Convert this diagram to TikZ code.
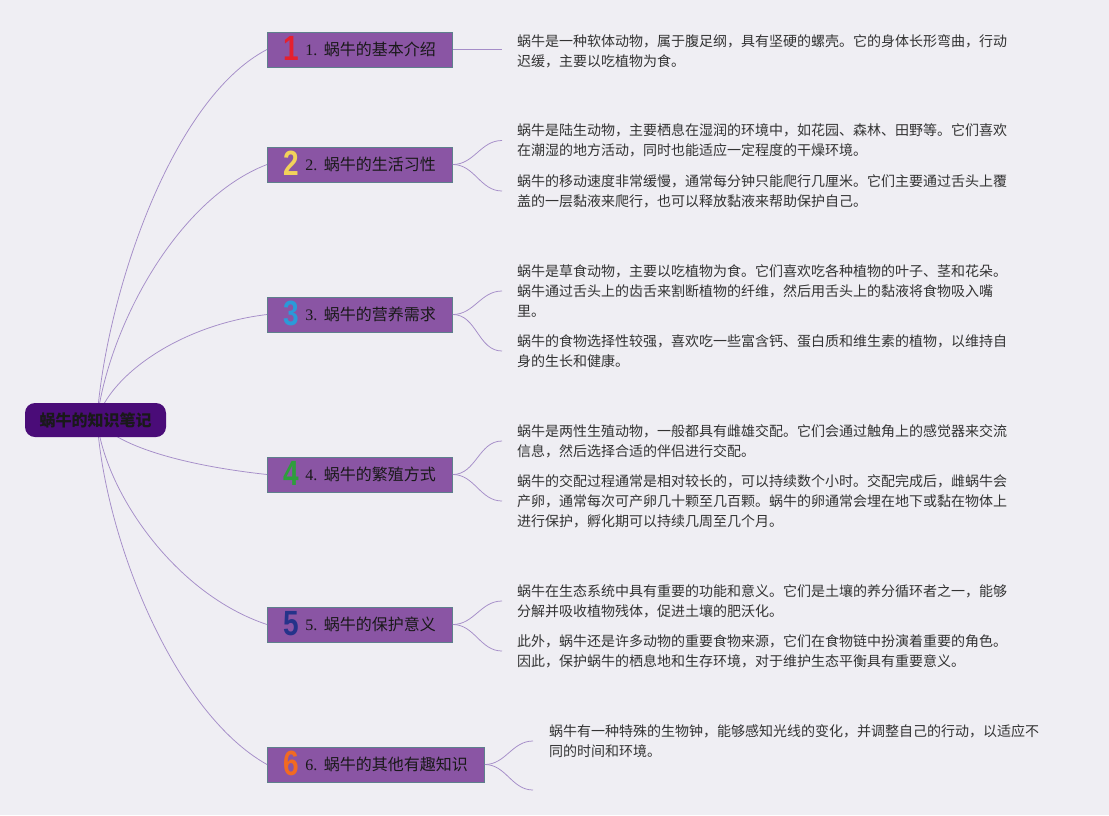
\documentclass[tikz,border=0pt]{standalone}
\usepackage{fontspec}
\newfontfamily\cjk{Noto Sans CJK SC}
\newfontfamily\numfont{Liberation Serif}
\newfontfamily\digitfont[FakeStretch=0.8]{Liberation Sans}
\definecolor{bg}{HTML}{EFEEF3}
\definecolor{rootfill}{HTML}{4A0C78}
\definecolor{topicfill}{HTML}{8A55A4}
\definecolor{topicline}{HTML}{5E7F8C}
\definecolor{conn}{HTML}{A58DC8}
\definecolor{txt}{HTML}{333333}
\definecolor{dA}{HTML}{E5202E}
\definecolor{dB}{HTML}{F2D25A}
\definecolor{dC}{HTML}{2B9AD8}
\definecolor{dD}{HTML}{2E9E3C}
\definecolor{dE}{HTML}{25338A}
\definecolor{dF}{HTML}{F26A21}
\newcommand{\bigdigit}[2]{\smash{\raisebox{-4.5pt}{\digitfont\bfseries\fontsize{35}{35}\selectfont\color{#1}#2}}\hspace{6pt}}
\tikzset{
  rootbox/.style={draw=none, fill=rootfill, rounded corners=10pt, minimum width=141pt, minimum height=34pt, inner sep=0pt, font=\cjk\bfseries\fontsize{16}{18}\selectfont, text=black!90},
  topicbox/.style={draw=topicline, line width=0.8pt, fill=topicfill, minimum height=35pt, inner xsep=0pt, inner ysep=0pt, font=\fontsize{16}{18}\selectfont, text=black!90, anchor=west},
  leaf/.style={anchor=west, inner xsep=15pt, inner ysep=0pt, align=left, font=\cjk\fontsize{14}{20}\selectfont, text=txt},
  link/.style={draw=conn, line width=0.75pt}
}
\begin{document}
\begin{tikzpicture}[x=1pt,y=-1pt]
\useasboundingbox[fill=bg] (0,0) rectangle (1109,815);
% topics
\node[topicbox, minimum width=185pt] (t1) at (267,49.5) {\bigdigit{dA}{1}{\numfont 1.} {\cjk 蜗牛的基本介绍}};
\node[topicbox, minimum width=185pt] (t2) at (267,164.5) {\bigdigit{dB}{2}{\numfont 2.} {\cjk 蜗牛的生活习性}};
\node[topicbox, minimum width=185pt] (t3) at (267,314.5) {\bigdigit{dC}{3}{\numfont 3.} {\cjk 蜗牛的营养需求}};
\node[topicbox, minimum width=185pt] (t4) at (267,474.5) {\bigdigit{dD}{4}{\numfont 4.} {\cjk 蜗牛的繁殖方式}};
\node[topicbox, minimum width=185pt] (t5) at (267,624.5) {\bigdigit{dE}{5}{\numfont 5.} {\cjk 蜗牛的保护意义}};
\node[topicbox, minimum width=217pt] (t6) at (267,764.5) {\bigdigit{dF}{6}{\numfont 6.} {\cjk 蜗牛的其他有趣知识}};
% leaves
\node[leaf] (c1) at (502,51) {蜗牛是一种软体动物，属于腹足纲，具有坚硬的螺壳。它的身体长形弯曲，行动\\迟缓，主要以吃植物为食。};
\node[leaf] (c21) at (502,140.5) {蜗牛是陆生动物，主要栖息在湿润的环境中，如花园、森林、田野等。它们喜欢\\在潮湿的地方活动，同时也能适应一定程度的干燥环境。};
\node[leaf] (c22) at (502,191) {蜗牛的移动速度非常缓慢，通常每分钟只能爬行几厘米。它们主要通过舌头上覆\\盖的一层黏液来爬行，也可以释放黏液来帮助保护自己。};
\node[leaf] (c31) at (502,291) {蜗牛是草食动物，主要以吃植物为食。它们喜欢吃各种植物的叶子、茎和花朵。\\蜗牛通过舌头上的齿舌来割断植物的纤维，然后用舌头上的黏液将食物吸入嘴\\里。};
\node[leaf] (c32) at (502,351) {蜗牛的食物选择性较强，喜欢吃一些富含钙、蛋白质和维生素的植物，以维持自\\身的生长和健康。};
\node[leaf] (c41) at (502,441) {蜗牛是两性生殖动物，一般都具有雌雄交配。它们会通过触角上的感觉器来交流\\信息，然后选择合适的伴侣进行交配。};
\node[leaf] (c42) at (502,501) {蜗牛的交配过程通常是相对较长的，可以持续数个小时。交配完成后，雌蜗牛会\\产卵，通常每次可产卵几十颗至几百颗。蜗牛的卵通常会埋在地下或黏在物体上\\进行保护，孵化期可以持续几周至几个月。};
\node[leaf] (c51) at (502,601) {蜗牛在生态系统中具有重要的功能和意义。它们是土壤的养分循环者之一，能够\\分解并吸收植物残体，促进土壤的肥沃化。};
\node[leaf] (c52) at (502,651) {此外，蜗牛还是许多动物的重要食物来源，它们在食物链中扮演着重要的角色。\\因此，保护蜗牛的栖息地和生存环境，对于维护生态平衡具有重要意义。};
\node[leaf, inner xsep=16pt] (c61) at (533,741) {蜗牛有一种特殊的生物钟，能够感知光线的变化，并调整自己的行动，以适应不\\同的时间和环境。};
\coordinate (c62) at (533,790);
% root connectors
\coordinate (r) at (97,420);
\draw[link] (r) .. controls (105,300) and (170,100) .. (t1.west);
\draw[link] (r) .. controls (108,330) and (175,200) .. (t2.west);
\draw[link] (r) .. controls (110,375) and (180,325) .. (t3.west);
\draw[link] (r) .. controls (115,445) and (180,465) .. (t4.west);
\draw[link] (r) .. controls (105,492) and (175,594) .. (t5.west);
\draw[link] (r) .. controls (105,541) and (175,713) .. (t6.west);
\node[rootbox] (root) at (95.5,420) {蜗牛的知识笔记};
% leaf connectors
\draw[link] (t1.east) -- (t1.east -| c1.west);
\draw[link] (t2.east) to[out=0,in=180] (c21.west);
\draw[link] (t2.east) to[out=0,in=180] (c22.west);
\draw[link] (t3.east) to[out=0,in=180] (c31.west);
\draw[link] (t3.east) to[out=0,in=180] (c32.west);
\draw[link] (t4.east) to[out=0,in=180] (c41.west);
\draw[link] (t4.east) to[out=0,in=180] (c42.west);
\draw[link] (t5.east) to[out=0,in=180] (c51.west);
\draw[link] (t5.east) to[out=0,in=180] (c52.west);
\draw[link] (t6.east) to[out=0,in=180] (c61.west);
\draw[link] (t6.east) to[out=0,in=180] (c62);
\end{tikzpicture}
\end{document}
